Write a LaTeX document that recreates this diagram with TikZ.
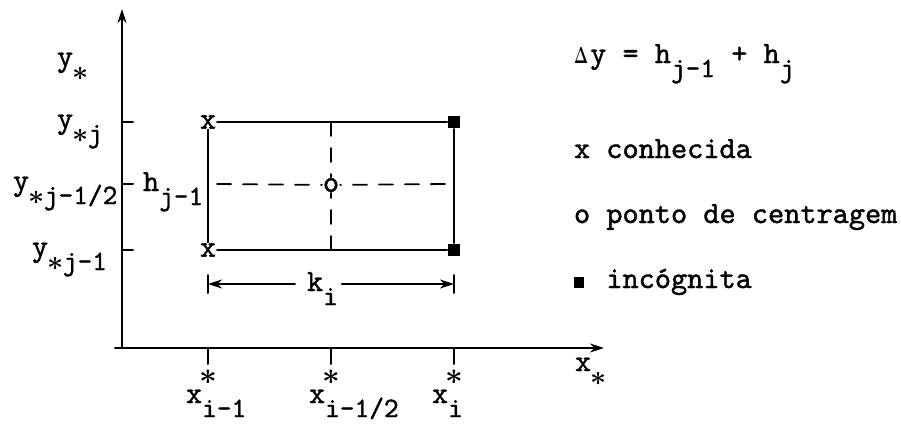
\RequirePackage{fix-cm}
\documentclass[tikz,border=0pt]{standalone}
\usepackage{fontspec}
\usetikzlibrary{arrows.meta}
\newfontfamily\tymono{lmmono10-regular.otf}[FakeBold=1.3]
\newcommand\tyfont{\tymono\fontsize{30.8}{33}\selectfont}
\newcommand\dn[1]{\raisebox{-14pt}{\fontsize{28}{30}\selectfont #1}}
\newcommand\st{\makebox[0.525em]{\boldmath$\ast$}}
\begin{document}
\begin{tikzpicture}[x=1pt,y=-1pt,line width=2pt,line join=round,line cap=round,>={Stealth[length=14pt,width=9pt]},
	lbl/.style={inner sep=0pt,anchor=base west,font=\tyfont},
	mk/.style={inner sep=0pt,font=\tyfont},
	sq/.style={fill,inner sep=0pt,minimum size=12pt},
	dsh/.style={line width=1.8pt,dash pattern=on 14pt off 12pt}]
	\useasboundingbox (0,0) rectangle (901,423);
	\path
	(122,348) coordinate (O)
	(115,348) coordinate (X0)
	(604,348) coordinate (X1)
	(122,9) coordinate (Y1)
	(208,122) coordinate (A)
	(454,122) coordinate (B)
	(454,250) coordinate (C)
	(208,250) coordinate (D)
	(331,122) coordinate (M1)
	(331,250) coordinate (M2)
	(217,184) coordinate (M3)
	(445,184) coordinate (M4)
	(208,284) coordinate (kL)
	(454,284) coordinate (kR)
	;
	% axes
	\draw[->] (X0)--(X1);
	\draw[->] (O)--(Y1);
	\foreach \yy in {122,184,250}
	\draw (122,\yy) -- ++(11,0);
	\foreach \xx in {208,331,454}
	\draw (\xx,348) -- ++(0,16);
	% cell
	\node[mk] (xA) at (A) {x};
	\node[mk] (xD) at (D) {x};
	\node[sq] (sB) at (B) {};
	\node[sq] (sC) at (C) {};
	\node[mk] (o) at (331,185) {o};
	\draw (xA)--(sB) (xD)--(sC) (xA)--(xD) (sB)--(sC);
	\draw[dsh] (M1)--(o) (M2)--(o) (M3)--(o) (M4)--(o);
	% k_i
	\node[lbl] (k) at (306,291) {k\dn{i}};
	\draw[->,shorten <=11pt] (k.west|-kL) -- (kL);
	\draw[->,shorten <=3pt] (k.east|-kR) -- (kR);
	\foreach \p in {kL,kR}
	\draw ([yshift=-9pt]\p) -- ([yshift=9pt]\p);
	% labels
	\node[lbl] (ys) at (56,66) {y\dn{\st}};
	\node[lbl] (yj) at (56,128) {y\dn{\st j}};
	\node[lbl] (yjh) at (12,190) {y\dn{\st j-1/2}};
	\node[lbl] (yjm) at (31,256) {y\dn{\st j-1}};
	\node[lbl] (h) at (142,191) {h\dn{j-1}};
	\foreach \xx/\s [count=\n] in {208/{i-1},331/{i-1/2},454/{i}}{
		\node[mk] (s\n) at (\xx,377) {\st};
		\node[lbl] (x\n) at (\xx-23,403) {x\dn{\s}};
	}
	\node[lbl] (xs) at (574,371) {x\dn{\st}};
	% legend
	\node[lbl] (leg1) at (573,63) {\makebox[0.525em][l]{\resizebox{14pt}{16pt}{\boldmath$\mathbf{\Delta}$}}y = h\dn{j-1} + h\dn{j}};
	\node[lbl] (leg2) at (573,158) {x conhecida};
	\node[lbl] (leg3) at (573,223) {o ponto de centragem};
	\node[lbl] (leg4) at (573,288) {\makebox[0.525em][l]{\rule{10pt}{11pt}} incógnita};
\end{tikzpicture}
\end{document}
